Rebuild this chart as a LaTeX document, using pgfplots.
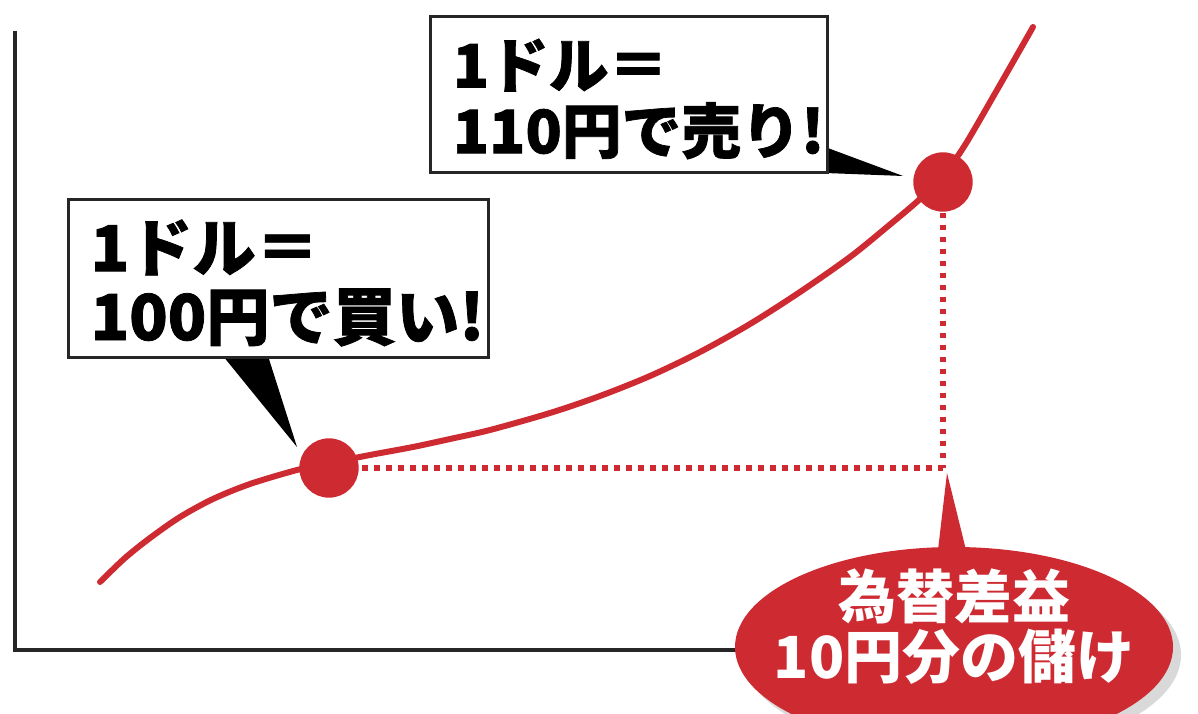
\documentclass[border=0pt]{standalone}
\usepackage{pgfplots}
\pgfplotsset{compat=1.18}
\usepackage{fontspec}
\newfontfamily\cjk{Noto Sans CJK JP}[BoldFeatures={FakeBold=1.2}]
\newfontfamily\cjkw{Noto Sans CJK JP}
\definecolor{fxred}{RGB}{206,42,50}

\begin{document}
\begin{tikzpicture}
  \useasboundingbox (0,0) rectangle (11.98cm,7.13cm);
  \clip (0,0) rectangle (11.98cm,7.13cm);
  \begin{axis}[
    scale only axis,
    width=11.98cm, height=7.13cm,
    xmin=0, xmax=1198, ymin=0, ymax=713,
    hide axis, clip=false]
    % axis frame (left and bottom)
    \draw[line width=0.4mm, black!85] (axis cs:15,682) -- (axis cs:15,63) -- (axis cs:780,63);
    % dotted guides
    \addplot[fxred, line width=0.6mm, dash pattern=on 0.55mm off 0.65mm]
      coordinates {(362,245) (943,245)};
    \addplot[fxred, line width=0.6mm, dash pattern=on 0.55mm off 0.65mm]
      coordinates {(943,500) (943,245)};
    % exchange rate curve
    \addplot[fxred, line width=0.6mm, smooth, tension=0.5, line cap=round]
      coordinates {(100,131) (125,155) (150,175) (180,196) (213,214) (250,229)
                   (297,243) (330,250) (370,258) (413,266) (450,274) (490,283)
                   (550,300) (600,317) (650,337) (700,361) (750,389) (800,421)
                   (850,456) (887,486) (920,514) (945,540) (965,568) (997,623)
                   (1033,686)};
    % buy / sell points
    \addplot[only marks, mark=*, mark size=2.9mm, fxred] coordinates {(329,245) (943,531)};

    % callout 1: buy
    \fill[black] (axis cs:223,357) -- (axis cs:268,357) -- (axis cs:297,266) -- cycle;
    \draw[line width=0.3mm, black!85, fill=white] (axis cs:68,355) rectangle (axis cs:488,513);
    \node[anchor=west, align=left, inner sep=0pt,
          font=\cjk\bfseries\fontsize{18}{19.6}\selectfont] at (axis cs:90,430)
      {1ドル＝\\100円で買い!};

    % callout 2: sell
    \fill[black] (axis cs:825,566) -- (axis cs:825,540) -- (axis cs:903,537) -- cycle;
    \draw[line width=0.3mm, black!85, fill=white] (axis cs:430,540) rectangle (axis cs:827,696);
    \node[anchor=west, align=left, inner sep=0pt,
          font=\cjk\bfseries\fontsize{17}{18.7}\selectfont] at (axis cs:452,614)
      {1ドル＝\\110円で売り!};

    % profit bubble
    \fill[black!25, opacity=0.6] (axis cs:962,58) ellipse [x radius=21.9mm, y radius=10mm];
    \fill[fxred] (axis cs:938,163) -- (axis cs:966,163) -- (axis cs:947,240) -- cycle;
    \fill[fxred] (axis cs:954,66) ellipse [x radius=21.9mm, y radius=10mm];
    \node[align=center, inner sep=0pt, text=white,
          font=\cjkw\bfseries\fontsize{16.5}{17}\selectfont] at (axis cs:954,86)
      {為替差益\\10円分の儲け};
  \end{axis}
\end{tikzpicture}
\end{document}
